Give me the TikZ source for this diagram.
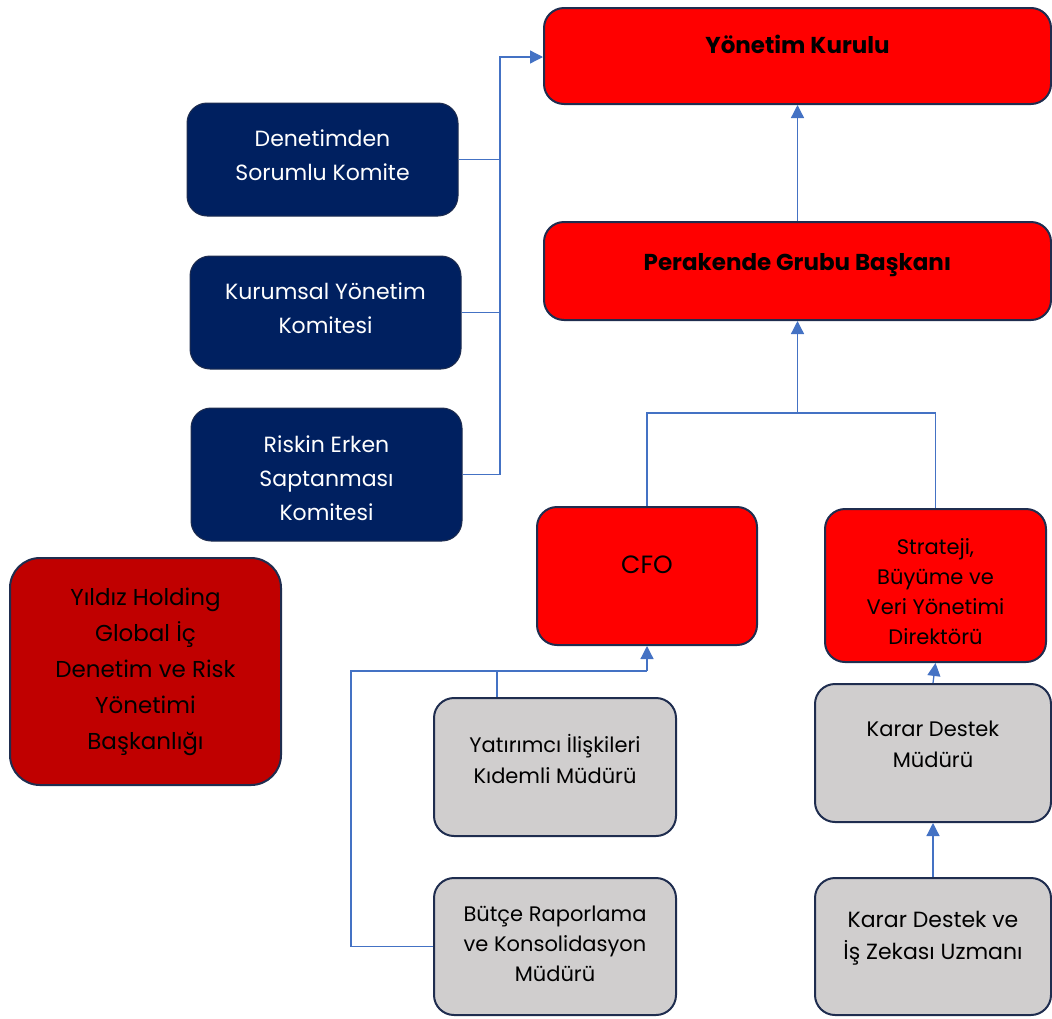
\documentclass[tikz,border=0pt]{standalone}
\usepackage{fontspec}
\setmainfont{Poppins}
\usepackage{tikz}
\usetikzlibrary{arrows.meta}
\definecolor{boxnavy}{HTML}{002060}
\definecolor{boxred}{HTML}{FF0000}
\definecolor{boxdarkred}{HTML}{C00000}
\definecolor{boxgrey}{HTML}{D0CECE}
\definecolor{edgeline}{HTML}{1F2D4F}
\definecolor{linkblue}{HTML}{4472C4}
\tikzset{
    base-box/.style = {draw=edgeline, line width=2pt, rectangle, rounded corners=20pt, align=center, inner sep=4pt},
    top-box/.style = {base-box, fill=boxred, text=black, font=\fontsize{23}{24}\selectfont\bfseries},
    committee-box/.style = {base-box, fill=boxnavy, line width=1pt, text=white, font=\fontsize{22}{34}\selectfont},
    red-box/.style = {base-box, fill=boxred, text=black},
    grey-box/.style = {base-box, fill=boxgrey, text=black, font=\fontsize{21}{31}\selectfont},
    link/.style = {draw=linkblue, line width=1.3pt},
    link-arrow/.style = {link, -{Triangle[length=13pt, width=13pt]}},
}
\begin{document}
\begin{tikzpicture}[x=1pt, y=-1pt]
\useasboundingbox (0,0) rectangle (1052,1018);
\node [top-box, minimum width=507pt, minimum height=96pt] (yk) at (797.5,56) {Yönetim Kurulu\\};
\node [top-box, minimum width=507pt, minimum height=98pt] (pgb) at (797.5,271) {Perakende Grubu Başkanı\\[-6pt]};
\node [committee-box, minimum width=271pt, minimum height=113pt] (den) at (322.5,159.5) {Denetimden\\Sorumlu Komite\\[-25pt]};
\node [committee-box, minimum width=271pt, minimum height=113pt] (kur) at (325.5,312.5) {Kurumsal Yönetim\\Komitesi\\[-25pt]};
\node [committee-box, minimum width=271pt, minimum height=133pt] (ris) at (326.5,474.5) {Riskin Erken\\Saptanması\\Komitesi\\[-41pt]};
\node [red-box, font=\fontsize{25}{30}\selectfont, minimum width=220pt, minimum height=138pt] (cfo) at (647,576) {CFO\\[-8pt]};
\node [red-box, font=\fontsize{21}{30}\selectfont, minimum width=221pt, minimum height=153pt] (str) at (935.5,585.5) {Strateji,\\Büyüme ve\\Veri Yönetimi\\Direktörü\\[-42pt]};
\node [grey-box, minimum width=236pt, minimum height=138pt] (kdm) at (933,753) {Karar Destek\\Müdürü\\[-14pt]};
\node [grey-box, font=\fontsize{22}{32}\selectfont, minimum width=236pt, minimum height=137pt] (kdu) at (933,946.5) {Karar Destek ve\\İş Zekası Uzmanı\\[-9pt]};
\node [grey-box, minimum width=242pt, minimum height=138pt] (yat) at (555,767) {Yatırımcı İlişkileri\\Kıdemli Müdürü\\[-14pt]};
\node [grey-box, font=\fontsize{21}{30}\selectfont, minimum width=242pt, minimum height=137pt] (but) at (555,946.5) {Bütçe Raporlama\\ve Konsolidasyon\\Müdürü\\[-24pt]};
\node [red-box, fill=boxdarkred, rounded corners=30pt, font=\fontsize{23}{36}\selectfont, minimum width=271pt, minimum height=227pt] (yil) at (145.5,671.5) {Yıldız Holding\\Global İç\\Denetim ve Risk\\Yönetimi\\Başkanlığı};

\coordinate (kbus) at (500,57);
\coordinate (pbus) at (797.5,413);
\coordinate (cbus) at (647,671);
\coordinate (bleft) at (351,671);

\draw [link] (den.east) -- (den.east -| kbus);
\draw [link] (kur.east) -- (kur.east -| kbus);
\draw [link-arrow] (ris.east) -| (kbus) -- (yk.west |- kbus);
\draw [link-arrow] (pgb.north) -- (yk.south);
\draw [link] (cfo.north) |- (pbus);
\draw [link] (str.north) |- (pbus);
\draw [link-arrow] (pbus) -- (pgb.south);
\draw [link] ([xshift=-58pt]yat.north) |- (cbus);
\draw [link] (but.west) -| (bleft) -- (cbus);
\draw [link-arrow] (cbus) -- (cfo.south);
\draw [link-arrow] (kdm.north) -- (str.south);
\draw [link-arrow] (kdu.north) -- (kdm.south);
\end{tikzpicture}
\end{document}
